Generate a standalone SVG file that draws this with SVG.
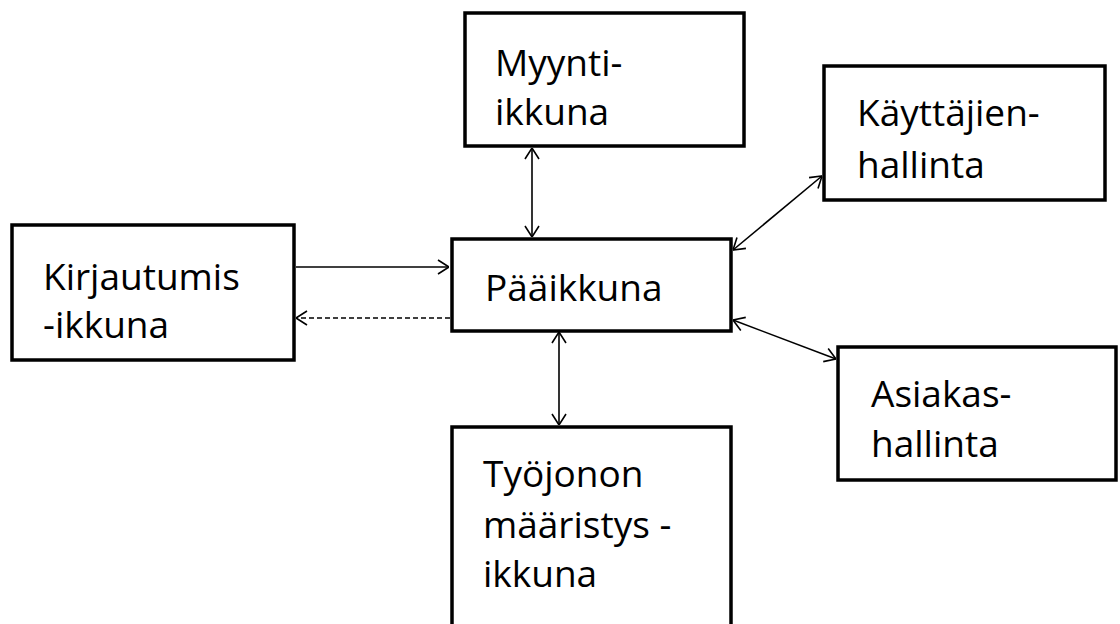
<svg xmlns="http://www.w3.org/2000/svg" width="1120" height="624" viewBox="0 0 1120 624">
<style>
.box{fill:#fff;stroke:#000;stroke-width:3.5}
.t{font-family:"Open Sans",sans-serif;font-size:37px;fill:#000}
.c{stroke:#000;stroke-width:1.6;fill:none}
.d{stroke-dasharray:5 3}
</style>
<defs>
<marker id="ah" viewBox="0 0 12 16" refX="12" refY="8" markerWidth="12" markerHeight="16" markerUnits="userSpaceOnUse" orient="auto-start-reverse">
<path d="M1,1 L12,8 L1,15" fill="none" stroke="#000" stroke-width="1.6"/>
</marker>
</defs>
<rect width="1120" height="624" fill="#fff"/>
<g id="connectors">
<line class="c" x1="532" y1="148" x2="532" y2="237" marker-start="url(#ah)" marker-end="url(#ah)"/>
<line class="c" x1="559" y1="332" x2="559" y2="425" marker-start="url(#ah)" marker-end="url(#ah)"/>
<line class="c" x1="296" y1="267" x2="449" y2="267" marker-end="url(#ah)"/>
<line class="c d" x1="450" y1="318" x2="296" y2="318" marker-end="url(#ah)"/>
<line class="c" x1="733" y1="250" x2="822" y2="176" marker-start="url(#ah)" marker-end="url(#ah)"/>
<line class="c" x1="733" y1="320" x2="836" y2="359" marker-start="url(#ah)" marker-end="url(#ah)"/>
</g>
<g id="kirjautumis">
<rect class="box" x="12" y="225" width="282" height="135"/>
<text class="t" x="43" y="290">Kirjautumis</text>
<text class="t" x="43" y="338">-ikkuna</text>
</g>
<g id="paaikkuna">
<rect class="box" x="452" y="239" width="279" height="92"/>
<text class="t" x="485" y="301">Pääikkuna</text>
</g>
<g id="myynti">
<rect class="box" x="465" y="13" width="279" height="133"/>
<text class="t" x="495" y="76">Myynti-</text>
<text class="t" x="495" y="125">ikkuna</text>
</g>
<g id="kayttajien">
<rect class="box" x="824" y="66" width="281" height="134"/>
<text class="t" x="857" y="126">Käyttäjien-</text>
<text class="t" x="857" y="178">hallinta</text>
</g>
<g id="asiakas">
<rect class="box" x="838" y="347" width="278" height="133"/>
<text class="t" x="871" y="407">Asiakas-</text>
<text class="t" x="871" y="457">hallinta</text>
</g>
<g id="tyojonon">
<rect class="box" x="452" y="427" width="279" height="210"/>
<text class="t" x="483" y="487">Työjonon</text>
<text class="t" x="483" y="538">määristys -</text>
<text class="t" x="483" y="587">ikkuna</text>
</g>
</svg>
